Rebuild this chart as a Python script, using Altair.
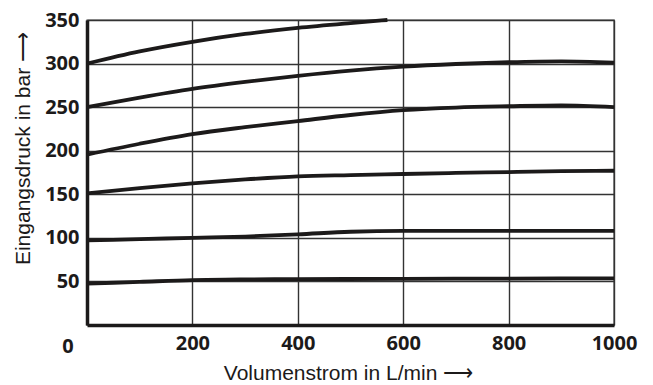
import altair as alt
import pandas as pd

# --- data -------------------------------------------------------------------
flow_a = [0, 100, 200, 300, 400, 500, 570]
p300 = [300, 314, 325, 334, 341, 346.5, 350]

flow_b = [0, 100, 200, 300, 400, 500, 600, 700, 800, 900, 1000]
p250 = [250, 261, 271, 279, 286, 292, 296.5, 299.5, 301.5, 302.5, 301]
p200 = [195.5, 208, 219, 227, 234, 241, 246.5, 249.5, 251, 252, 250]
p150 = [151, 157, 162.5, 167, 170.5, 172, 173.3, 174.5, 175.5, 176.5, 177]

flow_c = [0, 100, 200, 300, 400, 500, 600, 800, 1000]
p100 = [97, 98.5, 100, 101.5, 104, 107, 108, 108, 108]

flow_d = [0, 100, 200, 300, 400, 600, 800, 1000]
p50 = [47.5, 49.5, 51.5, 52.3, 52.6, 53, 53.3, 53.5]

x_ticks = [200, 400, 600, 800, 1000]
y_ticks = [50, 100, 150, 200, 250, 300, 350]
origin_label = ["0"]

series = [
    ("300", flow_a, p300),
    ("250", flow_b, p250),
    ("200", flow_b, p200),
    ("150", flow_b, p150),
    ("100", flow_c, p100),
    ("50", flow_d, p50),
]
rows = []
for name, xs, ys in series:
    for i, (xv, yv) in enumerate(zip(xs, ys)):
        rows.append({"curve": name, "order": i, "x": xv, "y": yv})
df = pd.DataFrame(rows)
zero_df = pd.DataFrame({"x": [0], "y": [0], "t": origin_label})

FONT = "Open Sans"
TFONT = "Liberation Sans"
INK = "#1c1a1a"
x_scale = alt.Scale(domain=[0, 1000], nice=False, zero=False)
y_scale = alt.Scale(domain=[0, 350], nice=False)

common = dict(
    titleFont=TFONT,
    titleFontSize=21,
    titleFontWeight="normal",
    titleColor=INK,
    titleBaseline="alphabetic",
    labelFont=FONT,
    labelFontSize=20,
    labelFontWeight="bold",
    labelColor=INK,
    labelPadding=8,
    ticks=False,
    domainColor=INK,
    domainWidth=3.5,
    grid=True,
    gridColor="#333333",
    gridWidth=1.4,
    labelFlush=False,
)

lines = alt.Chart(df).mark_line(
    color=INK, strokeWidth=3.8, interpolate="monotone", strokeCap="butt"
).encode(
    x=alt.X(
        "x:Q",
        scale=x_scale,
        axis=alt.Axis(
            values=x_ticks,
            format="d",
            title="Volumenstrom in L/min ⟶",
            titleX=261,
            titleY=54,
            **common,
        ),
    ),
    y=alt.Y(
        "y:Q",
        scale=y_scale,
        axis=alt.Axis(
            values=y_ticks,
            title="Eingangsdruck in bar ⟶",
            titleX=-58,
            titleY=128,
            **common,
        ),
    ),
    detail="curve:N",
    order="order:Q",
)

zero_text = alt.Chart(zero_df).mark_text(
    font=FONT, fontSize=20, fontWeight="bold", color=INK,
    dx=-19, dy=22, baseline="middle", align="center",
).encode(
    x=alt.X("x:Q", scale=x_scale),
    y=alt.Y("y:Q", scale=y_scale),
    text="t:N",
)

chart = (
    alt.layer(lines, zero_text)
    .properties(
        width=527,
        height=305,
        autosize=alt.AutoSizeParams(type="none"),
        padding={"left": 79, "top": 12, "right": 31, "bottom": 59},
    )
    .configure_view(stroke="#444444", strokeWidth=1.4)
)

chart.save("out.html", embed_options={"renderer": "svg", "actions": False})
